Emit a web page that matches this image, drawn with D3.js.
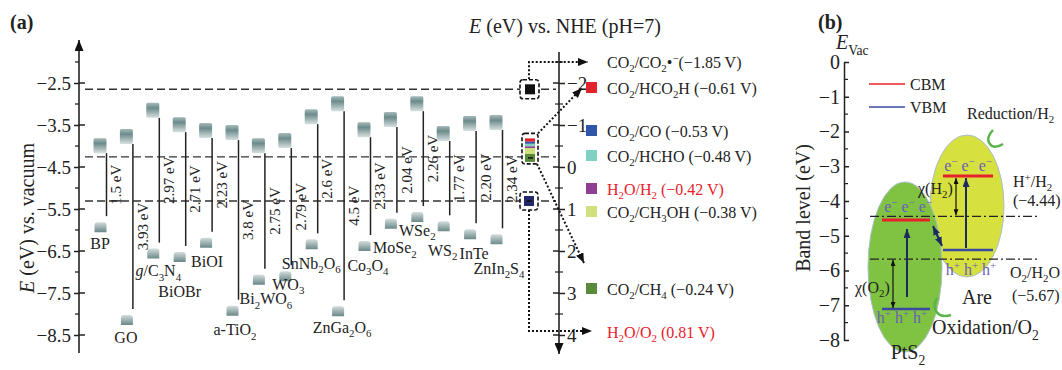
<!DOCTYPE html>
<html lang="en">
<head>
    <meta charset="UTF-8"/>
    <title>Band edge positions</title>
    <script src="https://d3js.org/d3.v7.min.js"></script>
    <style>
    body { margin: 0; background: #fff; }
    text { font-family: "Liberation Serif", "DejaVu Serif", serif; fill: #222; }
    .axis text { font-size: 19px; font-family: "Liberation Serif", serif; fill: #222; }
    .axis path, .axis line { fill: none; stroke: #222; stroke-width: 1.5px; }
    .refLine { stroke: #333; stroke-width: 1.4px; stroke-dasharray: 8,4; }
    .gapLine { stroke: #222; stroke-width: 1.5px; }
    .dotted { fill: none; stroke: #111; stroke-width: 2px; stroke-dasharray: 2,2; }
    .dashDot { stroke: #222; stroke-width: 1.3px; stroke-dasharray: 9,3,2,3; }
    </style>
</head>
<body>
<svg id="chart"></svg>
<script>
var w = 1062, h = 370;

// ---- panel (a) data
var materials = ["BP", "GO", "*g*/C_3N_4", "BiOBr", "BiOI", "a-TiO_2", "Bi_2WO_6", "WO_3",
    "SnNb_2O_6", "ZnGa_2O_6", "Co_3O_4", "MoSe_2", "WSe_2", "WS_2", "InTe", "ZnIn_2S_4"];
var cbValues = [-4.17, -3.95, -3.33, -3.67, -3.81, -3.86, -4.17, -4.05,
    -3.48, -3.17, -3.79, -3.55, -3.17, -3.88, -3.64, -3.62];
var gapValues = [1.5, 3.93, 2.97, 2.71, 2.23, 3.8, 2.75, 2.79,
    2.6, 4.5, 2.33, 2.04, 2.26, 1.77, 2.20, 2.34];
var gapLabels = ["1.5 eV", "3.93 eV", "2.97 eV", "2.71 eV", "2.23 eV", "3.8 eV", "2.75 eV", "2.79 eV",
    "2.6 eV", "4.5 eV", "2.33 eV", "2.04 eV", "2.26 eV", "1.77 eV", "2.20 eV", "2.34 eV"];
var vacTicks = [-2.5, -3.5, -4.5, -5.5, -6.5, -7.5, -8.5];
var nheTicks = [-2, -1, 0, 1, 2, 3, 4];

var couples = ["CO_2/CO_2•^−(−1.85 V)", "CO_2/HCO_2H (−0.61 V)", "CO_2/CO (−0.53 V)", "CO_2/HCHO (−0.48 V)",
    "H_2O/H_2 (−0.42 V)", "CO_2/CH_3OH (−0.38 V)", "CO_2/CH_4 (−0.24 V)", "H_2O/O_2 (0.81 V)"];
var potentials = [-1.85, -0.61, -0.53, -0.48, -0.42, -0.38, -0.24, 0.81];

// ---- panel (b) data
var bMaterials = ["PtS_2", "Are"];
var bCBM = [-4.55, -3.28];
var bVBM = [-7.11, -5.41];
var bLevels = [-4.44, -5.67];
var bLevelNames = ["H^+/H_2", "O_2/H_2O"];
var bLevelValues = ["(−4.44)", "(−5.67)"];
var bTicks = [0, -1, -2, -3, -4, -5, -6, -7, -8];

// ---- layout (not data)
var nameOffsets = [[-6.5, 11], [-7, 12], [-1, 12], [-6, 29], [-5, 14], [-3.5, 14], [1, 14], [-3, 3],
    [-6.5, 14], [-2, 11], [-2.5, 14], [-2, 19], [-6, 8], [-7, 19], [-2, 14], [-3.5, 24]];
var legendRowY = [62, 88, 131, 156, 189, 212, 289, 332];
var coupleColors = [null, "#e3232c", "#2f56a8", "#7fd1c1", "#8e3f94", "#cfe07c", "#5b8a3c", null];
var coupleText = ["#222", "#222", "#222", "#222", "#e8202a", "#222", "#222", "#e8202a"];
var bLineX = [[882, 930], [943, 993]];
var bEllipse = [{cx: 905, cy: 267, rx: 37, ry: 85, fill: "#80c342"}, {cx: 967, cy: 206, rx: 37, ry: 71, fill: "#d6e03e"}];

var svg = d3.select("#chart").attr("width", w).attr("height", h);
var defs = svg.append("defs");

var gCB = defs.append("linearGradient").attr("id", "cbGrad").attr("x1", 0).attr("y1", 0).attr("x2", 0).attr("y2", 1);
gCB.append("stop").attr("offset", "0%").attr("stop-color", "#a6baba");
gCB.append("stop").attr("offset", "35%").attr("stop-color", "#6c8b8b");
gCB.append("stop").attr("offset", "100%").attr("stop-color", "#d8e0e0");
var gVB = defs.append("linearGradient").attr("id", "vbGrad").attr("x1", 0).attr("y1", 0).attr("x2", 0).attr("y2", 1);
gVB.append("stop").attr("offset", "0%").attr("stop-color", "#d4dddd");
gVB.append("stop").attr("offset", "100%").attr("stop-color", "#6a8888");

function marker(id, color, len, wid) {
    defs.append("marker").attr("id", id).attr("markerUnits", "userSpaceOnUse")
        .attr("viewBox", "0 0 10 10").attr("preserveAspectRatio", "none")
        .attr("refX", 10).attr("refY", 5)
        .attr("markerWidth", len).attr("markerHeight", wid).attr("orient", "auto-start-reverse")
        .append("path").attr("d", "M0,0L10,5L0,10Z").attr("fill", color);
}
marker("ak", "#111", 10, 8);
marker("axArrow", "#111", 11, 9);
marker("an", "#1c2a5e", 9, 7);
marker("aks", "#111", 6, 5);

// text with _sub, ^sup and *italic*
function rich(sel, str, fs) {
    var re = /([_^])(\{[^}]*\}|.)|\*([^*]+)\*|([^_^*]+)/g, m, shift = 0;
    while ((m = re.exec(str)) !== null) {
        var t = sel.append("tspan"), target = 0, txt;
        if (m[1]) {
            txt = m[2].replace(/[{}]/g, "");
            target = m[1] === "_" ? fs * 0.28 : -fs * 0.38;
            t.style("font-size", (fs * 0.68) + "px");
        } else if (m[3]) {
            txt = m[3];
            t.style("font-style", "italic");
        } else {
            txt = m[4];
        }
        if (target !== shift) t.attr("dy", target - shift);
        shift = target;
        t.text(txt);
    }
}
function label(g, x, y, str, fs, anchor, color) {
    var t = g.append("text").attr("x", x).attr("y", y + fs * 0.35)
        .attr("text-anchor", anchor || "start").style("font-size", fs + "px");
    if (color) t.style("fill", color);
    rich(t, str, fs);
    return t;
}
var minus = function(d) { return String(d).replace("-", "−"); };

// ================= panel (a)
var pa = svg.append("g");
var xMat = d3.scalePoint().domain(materials).range([106.5, 502.5]);
var yV = d3.scaleLinear().domain([-2.5, -8.5]).range([83, 335]);
var yN = d3.scaleLinear().domain([-2, 4]).range([83, 335]);

label(pa, 10, 22, "(a)", 20).style("font-weight", "bold");
label(pa, 565, 26, "*E* (eV) vs. NHE (pH=7)", 20, "middle");
var yl = pa.append("g").attr("transform", "translate(27,218) rotate(-90)");
label(yl, 0, 0, "*E* (eV) vs. vacuum", 20, "middle");

// dashed reference levels
var refIdx = [0, 6, 7];
pa.selectAll(".refLine").data(refIdx).enter().append("line").attr("class", "refLine")
    .attr("x1", 85).attr("x2", 556)
    .attr("y1", function(d) { return yN(potentials[d]); })
    .attr("y2", function(d) { return yN(potentials[d]); });

// vacuum axis
var ax1 = pa.append("g").attr("class", "axis").attr("transform", "translate(79,0)")
    .call(d3.axisLeft(yV).tickValues(vacTicks).tickSize(5).tickPadding(3)
        .tickFormat(function(d) { return minus(d.toFixed(1)); }));
ax1.select(".domain").remove();
ax1.selectAll("text").style("font-size", "19px");
pa.append("line").attr("x1", 79).attr("x2", 79).attr("y1", 353).attr("y2", 40)
    .attr("stroke", "#222").attr("stroke-width", 1.6).attr("marker-end", "url(#axArrow)");
pa.selectAll(".vt").data(vacTicks).enter().append("line")
    .attr("x1", 79).attr("x2", 85).attr("y1", yV).attr("y2", yV).attr("stroke", "#222").attr("stroke-width", 1.5);
pa.selectAll(".vm").data(d3.range(-2, -9, -1)).enter().append("line")
    .attr("x1", 75).attr("x2", 79).attr("y1", yV).attr("y2", yV).attr("stroke", "#222").attr("stroke-width", 1.3);

// NHE axis
var ax2 = pa.append("g").attr("class", "axis").attr("transform", "translate(559,0)")
    .call(d3.axisRight(yN).tickValues(nheTicks).tickSize(6).tickPadding(2).tickFormat(minus));
ax2.select(".domain").remove();
ax2.selectAll("text").style("font-size", "19px");
pa.append("line").attr("x1", 559).attr("x2", 559).attr("y1", 52).attr("y2", 354)
    .attr("stroke", "#222").attr("stroke-width", 1.6).attr("marker-end", "url(#axArrow)");
pa.selectAll(".nt").data(nheTicks).enter().append("line")
    .attr("x1", 553).attr("x2", 559).attr("y1", yN).attr("y2", yN).attr("stroke", "#222").attr("stroke-width", 1.5);
pa.selectAll(".nm").data(d3.range(-2.5, 4, 1)).enter().append("line")
    .attr("x1", 555).attr("x2", 563).attr("y1", yN).attr("y2", yN).attr("stroke", "#222").attr("stroke-width", 1.2);

// materials
var mats = materials.map(function(name, i) {
    return {name: name, cb: cbValues[i], vb: cbValues[i] - gapValues[i], gap: gapLabels[i], off: nameOffsets[i]};
});
var mg = pa.selectAll(".mat").data(mats).enter().append("g").attr("class", "mat");
mg.append("line").attr("class", "gapLine")
    .attr("x1", function(d) { return xMat(d.name); }).attr("x2", function(d) { return xMat(d.name); })
    .attr("y1", function(d) { return yV(d.cb); }).attr("y2", function(d) { return yV(d.vb); });
mg.append("rect")
    .attr("x", function(d) { return xMat(d.name) - 13; })
    .attr("y", function(d) { return yV(d.cb) - 15; })
    .attr("width", 13).attr("height", 15).attr("rx", 1.5).attr("fill", "url(#cbGrad)");
mg.append("path")
    .attr("d", function(d) {
        var x = xMat(d.name) - 12, y = yV(d.vb) + 6;
        return "M" + x + "," + (y + 10) + "V" + (y + 3) + "Q" + x + "," + y + " " + (x + 3) + "," + y +
            "H" + (x + 9) + "Q" + (x + 12) + "," + y + " " + (x + 12) + "," + (y + 3) + "V" + (y + 10) + "Z";
    })
    .attr("fill", "url(#vbGrad)");
mg.each(function(d) {
    label(d3.select(this), xMat(d.name) + d.off[0], yV(d.vb) + 16 + d.off[1], d.name, 16, "middle");
});
mg.append("text")
    .attr("transform", function(d) {
        return "translate(" + (xMat(d.name) + 9.5) + "," + ((yV(d.cb) + yV(d.vb)) / 2) + ") rotate(-90)";
    })
    .attr("y", 15 * 0.35).attr("text-anchor", "middle").style("font-size", "15px")
    .text(function(d) { return d.gap; });

// dotted arrows from the boxes to the legend
var bx = 529;
var dots = [
    [[bx, yN(potentials[0]) - 10], [bx, legendRowY[0]], [588, legendRowY[0]]],
    [[538, yN(potentials[1]) - 8], [582, legendRowY[1]]],
    [[537, yN(potentials[6]) + 7], [584, 263]],
    [[bx, yN(potentials[7]) + 9], [bx, legendRowY[7] - 1], [592, legendRowY[7] - 1]]
];
pa.selectAll(".dotted").data(dots).enter().append("path").attr("class", "dotted")
    .attr("d", d3.line()).attr("marker-end", "url(#ak)");

// boxes
function dashBox(x0, y0, x1, y1) {
    pa.append("rect").attr("x", x0).attr("y", y0).attr("width", x1 - x0).attr("height", y1 - y0)
        .attr("rx", 3).attr("fill", "#fff").attr("stroke", "#111").attr("stroke-width", 1.6)
        .attr("stroke-dasharray", "4,2");
}
dashBox(520, yN(potentials[0]) - 9.5, 539, yN(potentials[0]) + 9.5);
pa.append("rect").attr("x", 525).attr("y", yN(potentials[0]) - 5).attr("width", 10).attr("height", 10).attr("fill", "#111");
dashBox(522, yN(potentials[1]) - 8, 538, yN(potentials[6]) + 7);
var stripes = d3.range(1, 7);
pa.selectAll(".stripe").data(stripes).enter().append("rect")
    .attr("x", 525).attr("width", 10)
    .attr("y", function(d) { return yN(potentials[d]) - 3; })
    .attr("height", function(d) { return d < 6 ? yN(potentials[d + 1]) - yN(potentials[d]) : 8; })
    .attr("fill", function(d) { return coupleColors[d]; });
pa.append("line").attr("x1", 528).attr("x2", 533).attr("y1", yN(potentials[6]) + 1).attr("y2", yN(potentials[6]) + 1)
    .attr("stroke", "#111").attr("stroke-width", 1.5);
dashBox(520, yN(potentials[7]) - 9, 538, yN(potentials[7]) + 9);
pa.append("rect").attr("x", 524).attr("y", yN(potentials[7]) - 5).attr("width", 10).attr("height", 10).attr("fill", "#23286a");
pa.append("line").attr("x1", 527).attr("x2", 532).attr("y1", yN(potentials[7])).attr("y2", yN(potentials[7]))
    .attr("stroke", "#111").attr("stroke-width", 1.5);

// legend of redox couples
couples.forEach(function(c, i) {
    if (coupleColors[i]) {
        pa.append("rect").attr("x", 586).attr("y", legendRowY[i] - 6).attr("width", 11).attr("height", 11)
            .attr("fill", coupleColors[i]);
    }
    label(pa, 607, legendRowY[i], c, 16, "start", coupleText[i]);
});

// ================= panel (b)
var pb = svg.append("g");
var yB = d3.scaleLinear().domain([0, -8]).range([62, 340]);

label(pb, 818, 22, "(b)", 20).style("font-weight", "bold");
label(pb, 836, 42, "*E*_{Vac}", 20);
var yl2 = pb.append("g").attr("transform", "translate(803,208) rotate(-90)");
label(yl2, 0, 0, "Band level (eV)", 20, "middle");

var ax3 = pb.append("g").attr("class", "axis").attr("transform", "translate(844,0)")
    .call(d3.axisLeft(yB).tickValues(bTicks).tickSizeInner(-5).tickSizeOuter(0).tickPadding(4).tickFormat(minus));
ax3.selectAll("text").style("font-size", "20px");
pb.selectAll(".bm").data(d3.range(-0.5, -8, -1)).enter().append("line")
    .attr("x1", 844).attr("x2", 848).attr("y1", yB).attr("y2", yB).attr("stroke", "#222").attr("stroke-width", 1.2);

// legend
pb.append("line").attr("x1", 869).attr("x2", 905).attr("y1", 84).attr("y2", 84).attr("stroke", "#e8202a").attr("stroke-width", 1.6);
label(pb, 910, 84, "CBM", 16);
pb.append("line").attr("x1", 869).attr("x2", 905).attr("y1", 107).attr("y2", 107).attr("stroke", "#3a4aa0").attr("stroke-width", 1.6);
label(pb, 910, 107, "VBM", 16);

// ellipses: Are below, PtS2 on top
[1, 0].forEach(function(i) {
    var e = bEllipse[i];
    pb.append("ellipse").attr("cx", e.cx).attr("cy", e.cy).attr("rx", e.rx).attr("ry", e.ry)
        .attr("fill", e.fill).attr("stroke", "#a9bfc9").attr("stroke-width", 1);
});

// redox levels
bLevels.forEach(function(v, i) {
    pb.append("line").attr("class", "dashDot").attr("x1", 870).attr("x2", 1040).attr("y1", yB(v)).attr("y2", yB(v));
});
label(pb, 1013, yB(bLevels[0]) - 35, bLevelNames[0], 16);
label(pb, 1013, yB(bLevels[0]) - 16, bLevelValues[0], 16);
label(pb, 1010, yB(bLevels[1]) + 13, bLevelNames[1], 16);
label(pb, 1012, yB(bLevels[1]) + 36, bLevelValues[1], 16);

// band edges
bMaterials.forEach(function(m, i) {
    pb.append("line").attr("x1", bLineX[i][0]).attr("x2", bLineX[i][1]).attr("y1", yB(bCBM[i])).attr("y2", yB(bCBM[i]))
        .attr("stroke", "#e8202a").attr("stroke-width", 3);
    pb.append("line").attr("x1", bLineX[i][0]).attr("x2", bLineX[i][1]).attr("y1", yB(bVBM[i])).attr("y2", yB(bVBM[i]))
        .attr("stroke", "#3a4aa0").attr("stroke-width", 2.5);
});
var carrierColor = "#6b5fb5";
label(pb, 908, yB(bCBM[0]) - 14, "e^− e^− e^−", 16, "middle", carrierColor);
label(pb, 968, yB(bCBM[1]) - 11, "e^− e^− e^−", 16, "middle", carrierColor);
label(pb, 902, yB(bVBM[0]) + 8, "h^+ h^+ h^+", 16, "middle", carrierColor);
label(pb, 971, yB(bVBM[1]) + 19, "h^+ h^+ h^+", 16, "middle", carrierColor);

// arrows
function arrow(x1, y1, x2, y2, color, width, mk, both) {
    var l = pb.append("line").attr("x1", x1).attr("y1", y1).attr("x2", x2).attr("y2", y2)
        .attr("stroke", color).attr("stroke-width", width).attr("marker-end", "url(#" + mk + ")");
    if (both) l.attr("marker-start", "url(#" + mk + ")");
}
arrow(907, yB(bVBM[0]) - 12, 907, yB(bCBM[0]) + 9, "#1c2a5e", 2, "an");
arrow(966, yB(bVBM[1]) - 2, 966, yB(bCBM[1]) + 2, "#1c2a5e", 2, "an");
arrow(933, 226, 942, 246, "#1c2a5e", 2, "an", true);
arrow(893, yB(bLevels[1]) + 1, 893, yB(bVBM[0]) - 1, "#111", 1.2, "aks", true);
arrow(956, yB(bCBM[1]) + 2, 956, yB(bLevels[0]) - 1, "#111", 1.2, "aks", true);
label(pb, 918, 188, "χ(H_2)", 16);
label(pb, 855, 287, "χ(O_2)", 16);

// green curls
pb.append("path").attr("d", "M993,130 Q984,140 992,146 Q997,148 1003,144")
    .attr("fill", "none").attr("stroke", "#5ab54a").attr("stroke-width", 2.5);
pb.append("path").attr("d", "M937,298 Q931,309 940,315 Q945,317 951,315")
    .attr("fill", "none").attr("stroke", "#5ab54a").attr("stroke-width", 2.5);

label(pb, 967, 113, "Reduction/H_2", 16);
label(pb, 932, 327, "Oxidation/O_2", 20);
label(pb, 977, 297, bMaterials[1], 20, "middle");
label(pb, 908, 352, bMaterials[0], 20, "middle");
</script>
</body>
</html>
